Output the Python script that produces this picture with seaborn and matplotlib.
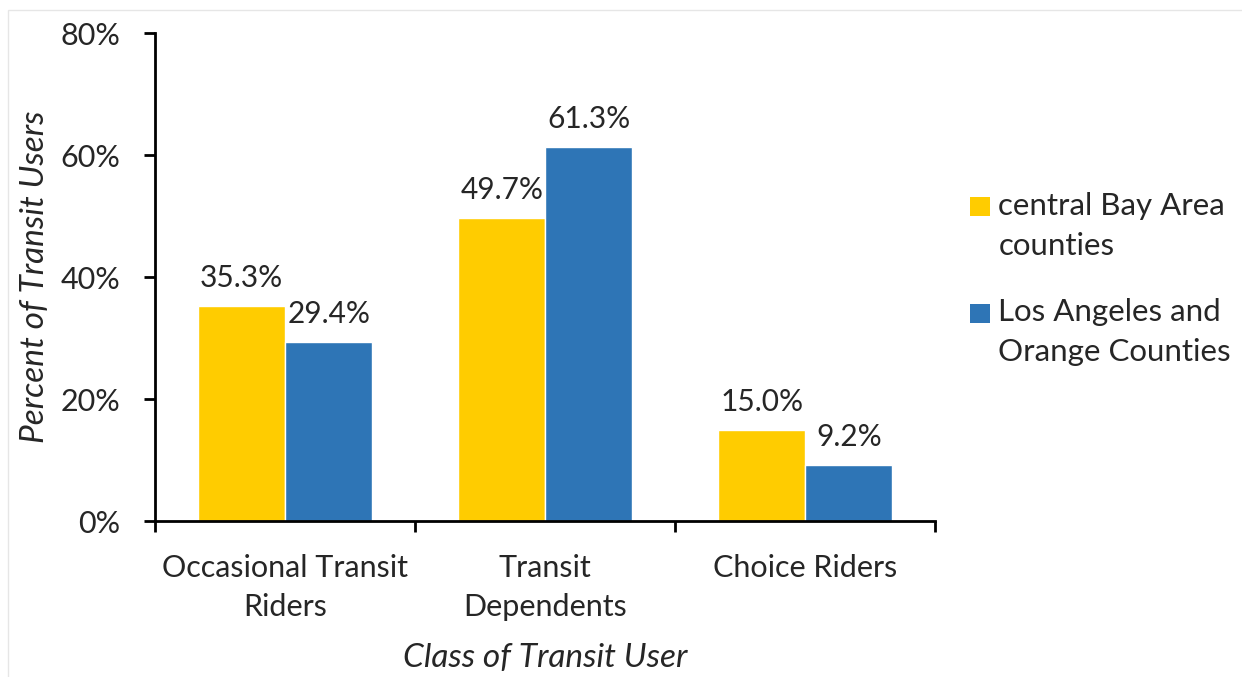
import pandas as pd
import numpy as np
import matplotlib.pyplot as plt
import seaborn as sns
from matplotlib.ticker import FixedLocator, PercentFormatter
from matplotlib.lines import Line2D
from matplotlib.patches import Rectangle
from matplotlib.path import Path

# data
categories = ["Occasional Transit\nRiders", "Transit\nDependents", "Choice Riders"]
regions = ["central Bay Area\ncounties", "Los Angeles and\nOrange Counties"]
bay_area = [35.3, 49.7, 15.0]
la_orange = [29.4, 61.3, 9.2]
colors = ["#FFCC00", "#2E75B6"]

df = pd.DataFrame({
    "cls": categories * 2,
    "region": [regions[0]] * 3 + [regions[1]] * 3,
    "pct": bay_area + la_orange,
})

sns.set_theme(style="white")
plt.rcParams["font.family"] = ["Lato", "DejaVu Sans"]

fig = plt.figure(figsize=(12.42, 6.77), dpi=100)
# faint frame round the picture, as in the screenshot
fig.patches.append(Rectangle((8 / 1242, -0.05), 1.2, 1 - 10 / 677 + 0.05,
                             transform=fig.transFigure, fill=False,
                             edgecolor="#E6E6E6", linewidth=1))
ax = fig.add_axes([0.125, 0.2304, 0.628, 0.7206])

sns.barplot(data=df, x="cls", y="pct", hue="region", order=categories,
            hue_order=regions, palette=colors, width=0.67, saturation=1,
            ax=ax, legend=False)

for cont in ax.containers:
    ax.bar_label(cont, fmt="%.1f%%", padding=10, fontsize=21.5)

ax.set_ylim(0, 80)
ax.set_xlim(-0.5, 2.5)
ax.set_yticks([0, 20, 40, 60, 80])
ax.yaxis.set_major_formatter(PercentFormatter(decimals=0))
ax.tick_params(axis="y", labelsize=22, length=8, width=2, direction="out",
               left=True, pad=17, color="black")
ax.tick_params(axis="x", which="major", length=0, labelsize=22, pad=24)
for lbl in ax.get_xticklabels():
    lbl.set_linespacing(1.45)
ax.xaxis.set_minor_locator(FixedLocator([-0.5, 0.5, 1.5, 2.5]))
ax.tick_params(axis="x", which="minor", length=8, width=2, bottom=True,
               direction="out", color="black")

for s in ["top", "right"]:
    ax.spines[s].set_visible(False)
for s in ["left", "bottom"]:
    ax.spines[s].set_color("black")
    ax.spines[s].set_linewidth(2)

ax.set_ylabel("Percent of Transit Users", fontsize=24, style="italic", labelpad=8)
ax.set_xlabel("Class of Transit User", fontsize=24, style="italic", labelpad=16)

# square marker raised so it sits next to the first line of each legend label
sq_up = Path([(-1, 1), (1, 1), (1, 3), (-1, 3), (-1, 1)],
             [Path.MOVETO, Path.LINETO, Path.LINETO, Path.LINETO, Path.CLOSEPOLY])
handles = [Line2D([], [], marker=sq_up, linestyle="", markersize=42,
                  markerfacecolor=c, markeredgecolor=c, markeredgewidth=0)
           for c in colors]
leg = fig.legend(handles, regions, loc="center left", bbox_to_anchor=(0.756, 0.588),
                 frameon=False, fontsize=22.5, handletextpad=0.2, labelspacing=1.2,
                 handlelength=0.8)
for t in leg.get_texts():
    t.set_linespacing(1.55)

plt.savefig("out.png", dpi=100)
